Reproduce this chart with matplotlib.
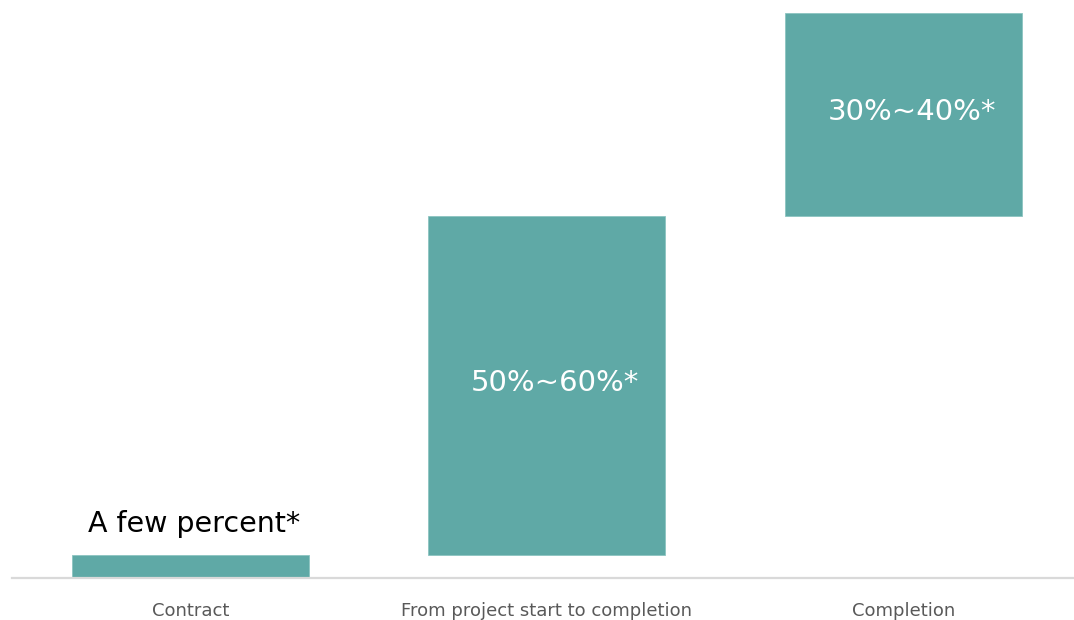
import matplotlib
matplotlib.use("Agg")
import matplotlib.pyplot as plt

# Payment stages and their share of the total (waterfall steps)
stages = ["Contract", "From project start to completion", "Completion"]
shares = [4, 60, 36]
labels = ["A few percent*", "50%~60%*", "30%~40%*"]

bar_color = "#5fa9a6"
axis_color = "#d9d9d9"
tick_color = "#595959"

fig = plt.figure(figsize=(10.74, 6.2), dpi=100)
ax = fig.add_axes([12 / 1074, 42 / 620, 1 - 12 / 1074, 565 / 620])

bottoms = []
running = 0
for s in shares:
    bottoms.append(running)
    running += s

x = list(range(len(stages)))
ax.bar(x, shares, bottom=bottoms, width=0.665, color=bar_color,
       edgecolor="#8cc4c1", linewidth=0.6)

# Value annotations: first above its bar, others centred inside
for i, (b, h, lab) in enumerate(zip(bottoms, shares, labels)):
    if i == 0:
        ax.annotate(lab, (i, b + h), xytext=(3, 22.5), textcoords="offset points",
                    ha="center", va="center", fontsize=20.5, color="black")
    else:
        ax.annotate(lab, (i, b + h / 2), xytext=(6, 2), textcoords="offset points",
                    ha="center", va="center", fontsize=21, color="white")

ax.set_xlim(-0.5, 2.478)
ax.set_ylim(0, 100)
ax.set_xticks(x)
ax.set_xticklabels(stages, fontsize=13, color=tick_color)
ax.tick_params(axis="x", length=0, pad=17)
ax.set_yticks([])
for side in ["top", "right", "left"]:
    ax.spines[side].set_visible(False)
ax.spines["bottom"].set_color(axis_color)
ax.spines["bottom"].set_linewidth(1.6)

fig.savefig("out.png", dpi=100, facecolor="white")
